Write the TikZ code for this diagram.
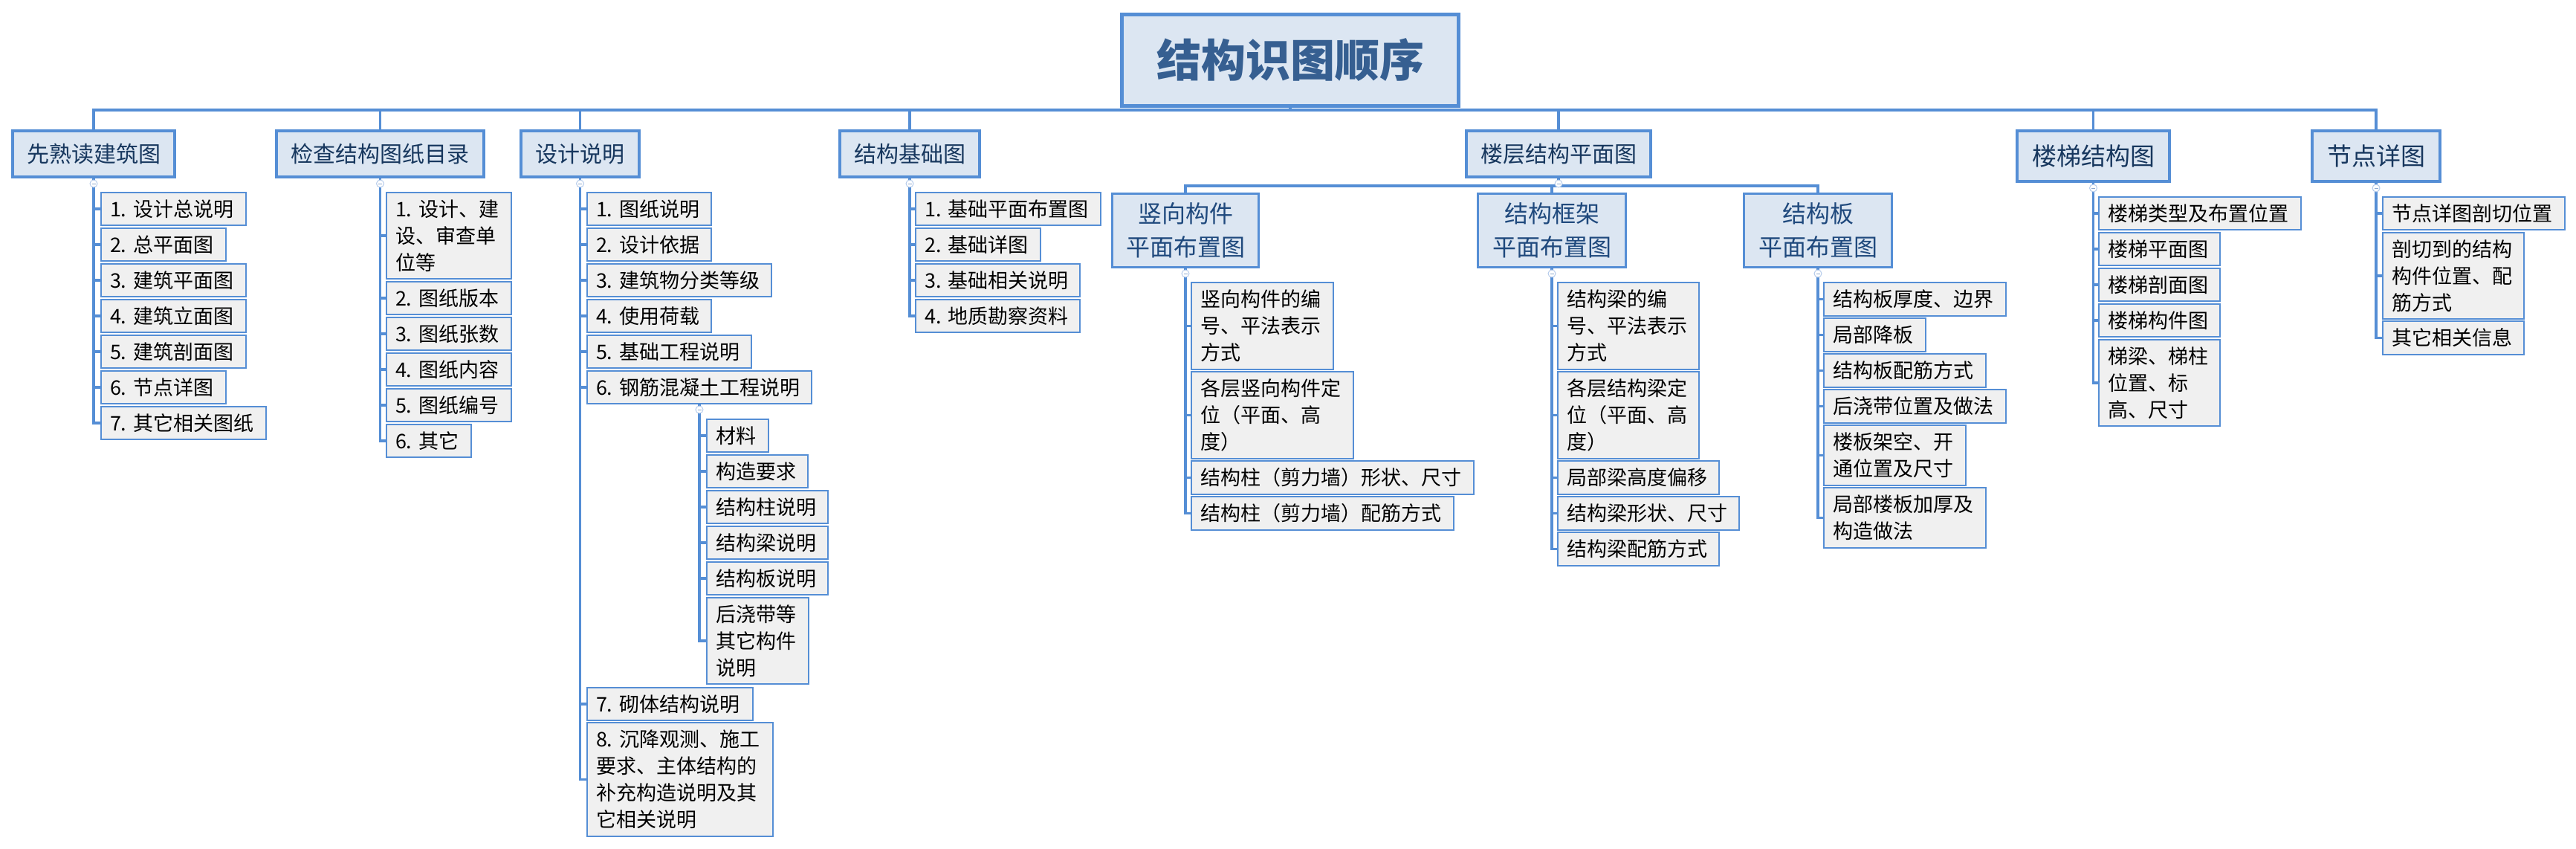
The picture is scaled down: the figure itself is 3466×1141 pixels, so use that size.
\documentclass[tikz,border=0pt]{standalone}
\usepackage{fontspec}
\setmainfont{Noto Sans CJK SC}
\definecolor{bc}{HTML}{558ED5}
\definecolor{lfill}{HTML}{DCE6F2}
\definecolor{kfill}{HTML}{F0F0F0}
\definecolor{ttext}{HTML}{365F91}
\definecolor{ltext}{HTML}{17375E}
\definecolor{mtext}{HTML}{1F497D}
\definecolor{cfl}{HTML}{B5CBEB}
\definecolor{cmin}{HTML}{8FA9CF}
\tikzset{
 titlebox/.style={draw=bc, fill=lfill, line width=5pt, anchor=north west, inner sep=0pt, font=\fontsize{60}{66}\selectfont\bfseries, text=ttext},
 topbox/.style={draw=bc, fill=lfill, line width=4pt, anchor=north west, inner sep=0pt, font=\fontsize{30}{36}\selectfont, text=ltext},
 midbox/.style={draw=bc, fill=lfill, line width=3pt, anchor=north west, inner sep=0pt, align=center, font=\fontsize{32}{45}\selectfont, text=mtext},
 kid/.style={draw=bc, fill=kfill, line width=2pt, anchor=north west, inner xsep=12pt, inner ysep=0pt, align=left, font=\fontsize{27}{36}\selectfont, text=black},
 conn/.style={draw=bc, line width=3.5pt},
 foldc/.style={circle, draw=cfl, fill=white, line width=1pt, minimum size=10pt, inner sep=0pt},
}
% \kb{name}{x}{y}{w}{h}{text}
\newcommand\kb[6]{\pgfmathsetmacro\kbtw{#4-24}\node[kid, minimum width=#4pt, minimum height=#5pt, text width=\kbtw pt] (#1) at (#2,#3) {#6};}
\newcommand\fold[1]{\node[foldc] (#1-f) at ([yshift=-7pt]#1.south) {};\draw[cmin, line width=1pt] ([xshift=-2.5pt]#1-f.center) -- ([xshift=2.5pt]#1-f.center);}
\newcommand\kids[2]{\draw[conn] (#1.south) -- (#1.south |- #2.west) -- (#2.west);}
\newcommand\stub[2]{\draw[conn] (#1.south |- #2.west) -- (#2.west);}
\begin{document}
\begin{tikzpicture}[x=1pt,y=-1pt]
\useasboundingbox (0,0) rectangle (3466,1141);
% title
\node[titlebox, minimum width=453pt, minimum height=123pt] (T) at (1507,17) {结构识图顺序};
% level 1
\node[topbox, minimum width=218pt, minimum height=62pt] (L1) at (15,174) {先熟读建筑图};
\node[topbox, minimum width=279pt, minimum height=62pt] (L2) at (370,174) {检查结构图纸目录};
\node[topbox, minimum width=159pt, minimum height=62pt] (L3) at (699,174) {设计说明};
\node[topbox, minimum width=188pt, minimum height=62pt] (L4) at (1128,174) {结构基础图};
\node[topbox, minimum width=248pt, minimum height=62pt] (L5) at (1971,174) {楼层结构平面图};
\node[topbox, minimum width=205pt, minimum height=68pt, font=\fontsize{33}{38}\selectfont] (L6) at (2712,174) {楼梯结构图};
\node[topbox, minimum width=172pt, minimum height=68pt, font=\fontsize{33}{38}\selectfont] (L7) at (3109,174) {节点详图};
% level 2 under L5
\node[midbox, minimum width=197pt, minimum height=99pt] (M1) at (1495,259) {竖向构件\\平面布置图};
\node[midbox, minimum width=199pt, minimum height=99pt] (M2) at (1987,259) {结构框架\\平面布置图};
\node[midbox, minimum width=199pt, minimum height=99pt] (M3) at (2345,259) {结构板\\平面布置图};
% L1 children
\kb{a1}{135}{258}{195}{44}{1.~设计总说明}
\kb{a2}{135}{306}{168}{44}{2.~总平面图}
\kb{a3}{135}{354}{195}{44}{3.~建筑平面图}
\kb{a4}{135}{402}{195}{44}{4.~建筑立面图}
\kb{a5}{135}{450}{195}{44}{5.~建筑剖面图}
\kb{a6}{135}{498}{168}{44}{6.~节点详图}
\kb{a7}{135}{546}{222}{44}{7.~其它相关图纸}
% L2 children
\kb{b1}{519}{258}{168}{116}{1.~设计、建\\设、审查单\\位等}
\kb{b2}{519}{378}{168}{44}{2.~图纸版本}
\kb{b3}{519}{426}{168}{44}{3.~图纸张数}
\kb{b4}{519}{474}{168}{44}{4.~图纸内容}
\kb{b5}{519}{522}{168}{44}{5.~图纸编号}
\kb{b6}{519}{570}{114}{44}{6.~其它}
% L3 children
\kb{c1}{789}{258}{167}{44}{1.~图纸说明}
\kb{c2}{789}{306}{167}{44}{2.~设计依据}
\kb{c3}{789}{354}{248}{44}{3.~建筑物分类等级}
\kb{c4}{789}{402}{167}{44}{4.~使用荷载}
\kb{c5}{789}{450}{221}{44}{5.~基础工程说明}
\kb{c6}{789}{498}{302}{44}{6.~钢筋混凝土工程说明}
\kb{c7}{789}{924}{223}{44}{7.~砌体结构说明}
\kb{c8}{789}{971}{250}{153}{8.~沉降观测、施工\\要求、主体结构的\\补充构造说明及其\\它相关说明}
% c6 children
\kb{d1}{950}{563}{83}{44}{材料}
\kb{d2}{950}{611}{136}{44}{构造要求}
\kb{d3}{950}{659}{163}{44}{结构柱说明}
\kb{d4}{950}{707}{163}{44}{结构梁说明}
\kb{d5}{950}{755}{163}{44}{结构板说明}
\kb{d6}{950}{803}{137}{116}{后浇带等\\其它构件\\说明}
% L4 children
\kb{e1}{1231}{258}{249}{44}{1.~基础平面布置图}
\kb{e2}{1231}{306}{168}{44}{2.~基础详图}
\kb{e3}{1231}{354}{221}{44}{3.~基础相关说明}
\kb{e4}{1231}{402}{221}{44}{4.~地质勘察资料}
% M1 children
\kb{f1}{1602}{379}{191}{117}{竖向构件的编\\号、平法表示\\方式}
\kb{f2}{1602}{499}{218}{117}{各层竖向构件定\\位（平面、高\\度）}
\kb{f3}{1602}{619}{380}{45}{结构柱（剪力墙）形状、尺寸}
\kb{f4}{1602}{667}{353}{45}{结构柱（剪力墙）配筋方式}
% M2 children
\kb{g1}{2095}{379}{190}{117}{结构梁的编\\号、平法表示\\方式}
\kb{g2}{2095}{499}{190}{117}{各层结构梁定\\位（平面、高\\度）}
\kb{g3}{2095}{619}{217}{45}{局部梁高度偏移}
\kb{g4}{2095}{667}{244}{45}{结构梁形状、尺寸}
\kb{g5}{2095}{715}{217}{45}{结构梁配筋方式}
% M3 children
\kb{h1}{2453}{379}{245}{45}{结构板厚度、边界}
\kb{h2}{2453}{427}{137}{45}{局部降板}
\kb{h3}{2453}{475}{218}{45}{结构板配筋方式}
\kb{h4}{2453}{523}{245}{45}{后浇带位置及做法}
\kb{h5}{2453}{571}{191}{81}{楼板架空、开\\通位置及尺寸}
\kb{h6}{2453}{655}{218}{81}{局部楼板加厚及\\构造做法}
% L6 children
\kb{i1}{2823}{264}{272}{44}{楼梯类型及布置位置}
\kb{i2}{2823}{312}{163}{44}{楼梯平面图}
\kb{i3}{2823}{360}{163}{44}{楼梯剖面图}
\kb{i4}{2823}{408}{163}{44}{楼梯构件图}
\kb{i5}{2823}{456}{163}{116}{梯梁、梯柱\\位置、标\\高、尺寸}
% L7 children
\kb{j1}{3205}{264}{245}{44}{节点详图剖切位置}
\kb{j2}{3205}{312}{190}{116}{剖切到的结构\\构件位置、配\\筋方式}
\kb{j3}{3205}{431}{190}{45}{其它相关信息}
% top bus
\coordinate (tb) at (0,148);
\draw[conn] (T.south) -- (T.south |- tb);
\draw[conn] (L1.north) -- (L1.north |- tb) -- (L7.north |- tb) -- (L7.north);
\foreach \n in {L2,L3,L4,L5,L6} {\draw[conn] (\n.north) -- (\n.north |- tb);}
% sub bus under L5
\coordinate (sb) at (0,250);
\draw[conn] (L5.south) -- (L5.south |- sb);
\draw[conn] (M1.north) -- (M1.north |- sb) -- (M3.north |- sb) -- (M3.north);
\draw[conn] (M2.north) -- (M2.north |- sb);
% child connectors
\kids{L1}{a7}\foreach \k in {a1,a2,a3,a4,a5,a6} {\stub{L1}{\k}}
\kids{L2}{b6}\foreach \k in {b1,b2,b3,b4,b5} {\stub{L2}{\k}}
\kids{L3}{c8}\foreach \k in {c1,c2,c3,c4,c5,c6,c7} {\stub{L3}{\k}}
\kids{c6}{d6}\foreach \k in {d1,d2,d3,d4,d5} {\stub{c6}{\k}}
\kids{L4}{e4}\foreach \k in {e1,e2,e3} {\stub{L4}{\k}}
\kids{M1}{f4}\foreach \k in {f1,f2,f3} {\stub{M1}{\k}}
\kids{M2}{g5}\foreach \k in {g1,g2,g3,g4} {\stub{M2}{\k}}
\kids{M3}{h6}\foreach \k in {h1,h2,h3,h4,h5} {\stub{M3}{\k}}
\kids{L6}{i5}\foreach \k in {i1,i2,i3,i4} {\stub{L6}{\k}}
\kids{L7}{j3}\foreach \k in {j1,j2} {\stub{L7}{\k}}
% fold markers
\foreach \n in {L1,L2,L3,L4,L5,L6,L7,M1,M2,M3,c6} {\fold{\n}}
\end{tikzpicture}
\end{document}
